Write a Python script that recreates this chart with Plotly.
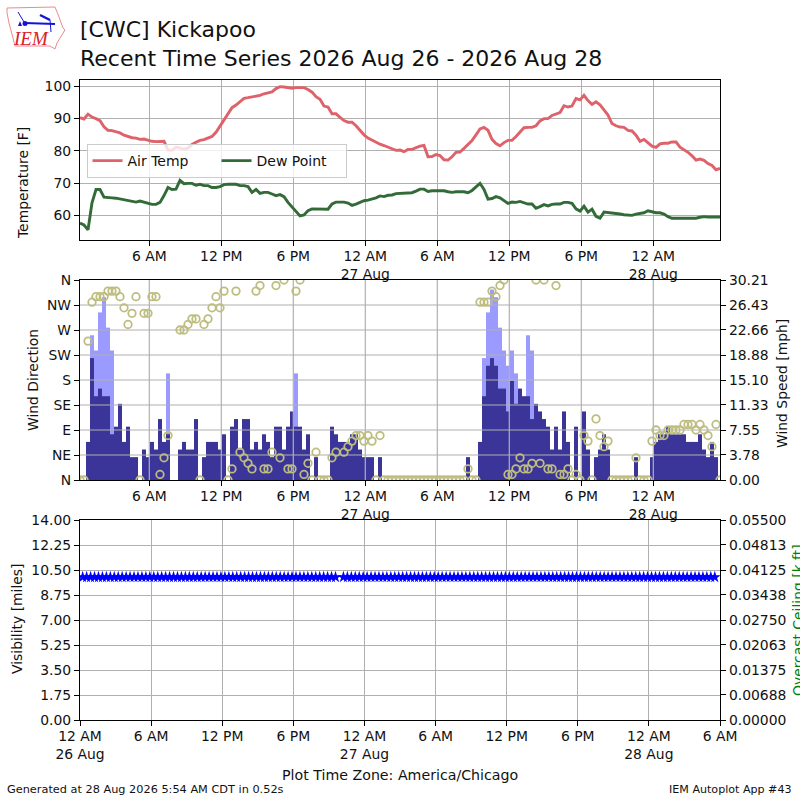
import pandas as pd
import plotly.graph_objects as go

TITLE_1 = "[CWC] Kickapoo"
TITLE_2 = "Recent Time Series 2026 Aug 26 - 2026 Aug 28"

TIMES = pd.date_range("2026-08-26 00:13:30", periods=161, freq="20min")

AIR_TEMP = [
    90.2, 89.8, 91.3, 90.4, 89.9, 89.3, 87.4, 86.3, 86.2, 85.8, 85.5, 84.8, 84.4, 84.0, 83.9, 83.5,
    83.6, 83.2, 82.9, 82.8, 82.8, 82.9, 80.2, 80.1, 81.1, 80.9, 80.5, 80.8, 81.9, 82.6, 83.2, 83.4,
    83.8, 84.4, 85.7, 87.6, 89.5, 91.4, 93.3, 94.1, 95.2, 96.2, 96.4, 96.6, 97.0, 97.1, 97.6, 97.8,
    98.2, 99.2, 99.8, 99.7, 99.5, 99.3, 99.5, 99.5, 99.5, 98.9, 98.1, 96.7, 95.9, 93.8, 93.5, 91.4,
    91.4, 90.3, 89.3, 88.8, 88.8, 87.7, 86.2, 84.9, 83.9, 83.2, 82.6, 82.0, 81.6, 81.2, 80.6, 80.1,
    80.2, 79.7, 80.4, 80.4, 80.9, 81.4, 81.6, 78.1, 78.2, 78.8, 78.5, 77.2, 77.1, 78.1, 79.5, 79.6,
    80.7, 81.9, 83.1, 84.9, 86.7, 87.2, 86.3, 83.5, 82.2, 81.5, 82.5, 83.2, 83.2, 84.4, 85.8, 87.1,
    87.2, 87.2, 87.7, 89.2, 89.9, 89.9, 90.9, 91.4, 91.8, 93.9, 93.5, 93.8, 96.1, 95.7, 97.1, 95.5,
    94.3, 95.1, 94.2, 92.6, 91.0, 88.4, 87.7, 87.3, 87.2, 86.3, 86.1, 84.8, 82.9, 83.5, 82.5, 81.4,
    81.0, 82.1, 82.3, 82.3, 82.7, 82.7, 81.1, 80.4, 79.5, 78.4, 77.1, 77.4, 77.0, 76.0, 75.4, 74.1,
    74.5,
]
DEW_POINT = [
    57.6, 57.0, 55.5, 63.9, 68.0, 68.0, 65.6, 65.4, 65.4, 65.3, 65.1, 64.9, 64.6, 64.4, 64.1, 64.4,
    64.1, 63.8, 63.4, 63.4, 64.0, 66.1, 68.6, 68.0, 68.1, 70.8, 69.8, 69.9, 69.9, 69.3, 69.6, 69.2,
    69.2, 68.6, 68.6, 68.9, 69.5, 69.6, 69.6, 69.6, 69.2, 69.2, 68.9, 67.1, 68.0, 66.8, 67.1, 67.1,
    66.6, 66.1, 66.4, 65.8, 64.0, 62.7, 61.4, 59.8, 60.1, 61.4, 62.0, 62.0, 61.8, 62.0, 61.9, 63.5,
    64.1, 64.1, 64.1, 63.8, 63.1, 63.5, 64.1, 64.5, 64.7, 65.0, 65.4, 66.0, 65.8, 66.2, 66.3, 66.7,
    66.8, 66.7, 67.0, 67.0, 67.5, 68.1, 68.1, 67.4, 67.6, 67.6, 67.6, 67.6, 67.3, 67.1, 67.3, 67.3,
    67.3, 67.0, 67.7, 68.8, 69.9, 68.0, 65.0, 65.2, 65.8, 65.4, 64.5, 63.7, 64.1, 64.0, 64.3, 63.9,
    63.5, 63.5, 62.2, 62.7, 63.3, 62.9, 63.4, 63.5, 63.5, 64.0, 64.0, 63.7, 62.0, 61.3, 62.8, 61.0,
    61.9, 59.7, 59.1, 61.0, 60.9, 60.8, 60.5, 60.4, 60.2, 60.0, 60.0, 60.4, 60.7, 60.8, 61.4, 61.1,
    60.8, 60.8, 60.4, 59.6, 59.1, 59.1, 59.1, 59.1, 59.1, 59.1, 59.1, 59.4, 59.6, 59.5, 59.5, 59.5,
    59.5,
]
WIND_KT = [
    0, 0, 5, 16, 11, 12, 11, 11, 6, 7, 10, 5, 7, 3, 3, 0, 4, 3, 5, 4, 8, 5, 6, 0, 0, 4, 5, 4, 4, 8,
    0, 3, 5, 5, 5, 4, 6, 0, 7, 8, 4, 8, 8, 4, 5, 4, 6, 5, 3, 7, 7, 4, 7, 9, 7, 7, 4, 6, 0, 3,
    0, 0, 0, 7, 6, 5, 5, 5, 6, 6, 4, 3, 3, 3, 0, 3, 0, 0, 0, 0, 0, 0, 0, 0, 0, 0, 0, 0, 0, 0,
    0, 0, 0, 0, 0, 0, 0, 3, 0, 0, 5, 11, 15, 16, 15, 12, 12, 9, 13, 10, 12, 11, 11, 8, 10, 9, 8, 7, 4, 7,
    4, 9, 5, 0, 7, 0, 9, 4, 0, 3, 4, 6, 4, 0, 0, 0, 0, 0, 0, 3, 0, 0, 0, 3, 5, 6, 6, 7, 6, 6,
    6, 6, 5, 5, 5, 6, 4, 3, 5, 3, 0,
]
GUST_KT = (
    [None] * 3 + [19, 17, 22, 24, 20, 17] + [None] * 13 + [14] + [None] * 31 + [14]
    + [None] * 46 + [16, 22, 25, 24, 20, 17, 15, 17, 14, None, None, 19, 17] + [None] * 47
)
WIND_DIR = [
    0, 0, 250, 320, 330, 330, 330, 340, 340, 340, 330, 310, 280, 300, 330, 0, 300, 300, 330, 330,
    10, 40, 80, None, None, 270, 270, 280, 290, 290, 0, 280, 290, 310, 330, 310, 340, 0, 20, 340,
    50, 40, 30, 20, 340, 350, 20, 20, 50, 350, 40, 360, 20, 20, 340, 360, 10, 30, 0, 50,
    0, 0, 0, 40, 50, None, 50, 60, 70, 80, 80, 70, 80, 70, 0, 80, 0, 0, 0, 0,
    0, 0, 0, 0, 0, 0, 0, 0, 0, 0, 0, 0, 0, 0, 0, 0, 0, 20, 0, 0,
    320, 320, 320, 340, 330, 350, 360, 10, 10, 20, 40, 20, 20, 30, 360, 30, 360, 20, 20, 350,
    10, 10, 20, 0, 10, 0, 80, 70, 0, 110, 80, 60, 70, 0, 0, 0, 0, 0, 0, 40,
    0, 0, 0, 70, 90, 80, 80, 90, 90, 90, 90, 100, 100, 100, 90, 100, 90, 80, 60, 100,
    0,
]
VISIBILITY = [10.0] * 65 + [None] + [10.0] * 95
CEILING = [None] * 161

X_TICKS_TOP = ["2026-08-26 06:00", "2026-08-26 12:00", "2026-08-26 18:00", "2026-08-27 00:00",
               "2026-08-27 06:00", "2026-08-27 12:00", "2026-08-27 18:00", "2026-08-28 00:00"]
X_LABELS_TOP = ["6 AM", "12 PM", "6 PM", "12 AM<br>27 Aug", "6 AM", "12 PM", "6 PM", "12 AM<br>28 Aug"]
X_TICKS_BOTTOM = ["2026-08-26 00:00"] + X_TICKS_TOP + ["2026-08-28 06:00"]
X_LABELS_BOTTOM = ["12 AM<br>26 Aug"] + X_LABELS_TOP + ["6 AM"]
TEMP_TICKS = [60, 70, 80, 90, 100]
DIR_TICKS = [0, 45, 90, 135, 180, 225, 270, 315, 360]
DIR_LABELS = ["N", "NE", "E", "SE", "S", "SW", "W", "NW", "N"]
SPEED_TICKS = [0, 3.78, 7.55, 11.33, 15.10, 18.88, 22.66, 26.43, 30.21]
SPEED_LABELS = ["0.00", "3.78", "7.55", "11.33", "15.10", "18.88", "22.66", "26.43", "30.21"]
VIS_TICKS = [0, 1.75, 3.5, 5.25, 7, 8.75, 10.5, 12.25, 14]
VIS_LABELS = ["0.00", "1.75", "3.50", "5.25", "7.00", "8.75", "10.50", "12.25", "14.00"]
CEIL_TICKS = [0, 0.00688, 0.01375, 0.02063, 0.0275, 0.03438, 0.04125, 0.04813, 0.055]
CEIL_LABELS = ["0.00000", "0.00688", "0.01375", "0.02063", "0.02750", "0.03438", "0.04125", "0.04813", "0.05500"]

MPH_PER_KT = 1.15078
wind_mph = [v * MPH_PER_KT for v in WIND_KT]
gust_mph = [None if v is None else v * MPH_PER_KT for v in GUST_KT]

FONT = "DejaVu Sans"
GRID = "#b0b0b0"
RANGE_TOP = ["2026-08-26 00:13:30", "2026-08-28 05:33:30"]
RANGE_BOTTOM = ["2026-08-26 00:00", "2026-08-28 06:00"]


def px(x, y):
    return x / 800, 1 - y / 800


def path(points, close=False):
    parts = []
    for i, (x, y) in enumerate(points):
        a, b = px(x, y)
        parts.append(("M" if i == 0 else "L") + f"{a:.5f},{b:.5f}")
    return " ".join(parts) + (" Z" if close else "")


def axis_style(**kw):
    base = dict(showline=True, linecolor="black", linewidth=1.2, ticks="outside", ticklen=5,
                tickwidth=1.1, tickcolor="black", tickfont=dict(family=FONT, size=13.9, color="#111"),
                tickmode="array", zeroline=False)
    base.update(kw)
    return base


fig = go.Figure()

# Temperature panel
fig.add_trace(go.Scatter(x=TIMES, y=AIR_TEMP, name="Air Temp", mode="lines", xaxis="x", yaxis="y",
                         line=dict(color="#df626b", width=2.9)))
fig.add_trace(go.Scatter(x=TIMES, y=DEW_POINT, name="Dew Point", mode="lines", xaxis="x", yaxis="y",
                         line=dict(color="#326a38", width=2.9)))

# Wind panel: bars on the speed axis, grid over the bars, direction circles on top
fig.add_trace(go.Bar(x=TIMES, y=gust_mph, name="Wind Gust", width=1200000, xaxis="x2", yaxis="y2",
                     marker=dict(color="#9b9bff", line=dict(width=0)), showlegend=False))
fig.add_trace(go.Bar(x=TIMES, y=wind_mph, name="Wind Speed", width=1200000, xaxis="x2", yaxis="y2",
                     marker=dict(color="#3b3599", line=dict(width=0)), showlegend=False))
grid_x, grid_y = [], []
for d in DIR_TICKS[1:-1]:
    grid_x += RANGE_TOP + [None]
    grid_y += [d, d, None]
for t in X_TICKS_TOP:
    grid_x += [t, t, None]
    grid_y += [0, 360, None]
fig.add_trace(go.Scatter(x=grid_x, y=grid_y, mode="lines", xaxis="x2", yaxis="y4", showlegend=False,
                         hoverinfo="skip", line=dict(color=GRID, width=1.2)))
fig.add_trace(go.Scatter(x=TIMES, y=WIND_DIR, name="Wind Direction", mode="markers", xaxis="x2", yaxis="y4",
                         showlegend=False,
                         marker=dict(symbol="circle-open", size=7.5, color="#bdbd80", line=dict(width=1.8, color="#bdbd80"))))

# Visibility panel
fig.add_trace(go.Scatter(x=TIMES, y=VISIBILITY, name="Visibility", mode="markers", xaxis="x3", yaxis="y5",
                         showlegend=False, marker=dict(symbol="star", size=9, color="#0000ff", line=dict(width=0))))
fig.add_trace(go.Scatter(x=TIMES, y=CEILING, name="Overcast Ceiling", mode="lines", xaxis="x3", yaxis="y6",
                         showlegend=False, line=dict(color="green")))

shapes = [
    dict(type="path", xref="paper", yref="paper", line=dict(color="#ee8a8a", width=1), fillcolor="rgba(0,0,0,0)",
         path=path([(7, 8), (55, 7), (59, 17), (63, 28), (65, 30), (60, 38), (57, 43), (55, 49), (50, 46),
                    (15, 46), (13, 38), (9, 23), (7, 13)], close=True)),
    dict(type="path", xref="paper", yref="paper", line=dict(color="#1414d8", width=2), path=path([(25, 23), (55, 24)])),
    dict(type="path", xref="paper", yref="paper", line=dict(color="#1414d8", width=2.5), path=path([(40, 15), (50, 20)])),
    dict(type="path", xref="paper", yref="paper", line=dict(color="#1414d8", width=1), path=path([(18, 12), (24, 22)])),
    dict(type="path", xref="paper", yref="paper", line=dict(color="#1414d8", width=1), path=path([(50, 20), (51, 32)])),
    dict(type="circle", xref="paper", yref="paper", line=dict(width=0), fillcolor="#1414d8",
         x0=22.5 / 800, x1=27.5 / 800, y0=1 - 26 / 800, y1=1 - 21 / 800),
    dict(type="path", xref="paper", yref="paper", line=dict(width=0), fillcolor="#1414d8",
         path=path([(18, 26), (22, 26), (20, 21)], close=True)),
]


def label(text, x, y, size=13.9, angle=0, anchor="center", color="#111", **kw):
    a, b = px(x, y)
    return dict(text=text, x=a, y=b, xref="paper", yref="paper", showarrow=False, textangle=angle, xanchor=anchor,
                yanchor="middle", font=dict(family=FONT, size=size, color=color), **kw)


annotations = [
    label("Temperature [F]", 23, 183, angle=-90),
    label("Wind Direction", 33, 380, angle=-90),
    label("Wind Speed [mph]", 782, 384, angle=-90),
    label("Visibility [miles]", 17, 619, angle=-90),
    label("Overcast Ceiling [k ft]", 798, 620, angle=-90, color="green"),
    label("Plot Time Zone: America/Chicago", 400, 775, size=14.2),
    label("Generated at 28 Aug 2026 5:54 AM CDT in 0.52s", 5, 789, size=11.3, anchor="left"),
    label("IEM Autoplot App #43", 794, 789, size=11.1, anchor="right"),
    dict(text="<i>IEM</i>", x=31 / 800, y=1 - 38.5 / 800, xref="paper", yref="paper", showarrow=False,
         xanchor="center", yanchor="middle", font=dict(family="Liberation Serif", size=19, color="#d8202a")),
]

fig.update_layout(
    width=800, height=800, autosize=False, margin=dict(l=0, r=0, t=0, b=0, autoexpand=False),
    paper_bgcolor="white", plot_bgcolor="white", barmode="overlay", font=dict(family=FONT, color="#111"),
    title=dict(text=TITLE_1 + "<br>" + TITLE_2, x=0.1, xanchor="left", xref="paper", y=1 - 37 / 800, yanchor="top",
               font=dict(family=FONT, size=22, color="#111")),
    legend=dict(orientation="h", x=86.5 / 800, y=1 - 144 / 800, xanchor="left", yanchor="top",
                bgcolor="rgba(255,255,255,0.8)", bordercolor="#cccccc", borderwidth=1,
                font=dict(family=FONT, size=14, color="#111"), entrywidth=84, entrywidthmode="pixels"),
    shapes=shapes, annotations=annotations,
    xaxis=axis_style(domain=[0.1, 0.9], anchor="y", range=RANGE_TOP, type="date", tickvals=X_TICKS_TOP,
                     ticktext=X_LABELS_TOP, mirror=True, showgrid=True, gridcolor=GRID, gridwidth=1.2,
                     ticklabelstandoff=-2),
    yaxis=axis_style(domain=[0.7, 0.9], anchor="x", range=[52.37, 101.86], tickvals=TEMP_TICKS, mirror=True,
                     showgrid=True, gridcolor=GRID, gridwidth=1.2),
    xaxis2=axis_style(domain=[0.1, 0.9], anchor="y2", range=RANGE_TOP, type="date", tickvals=X_TICKS_TOP,
                      ticktext=X_LABELS_TOP, mirror=True, showgrid=False, ticklabelstandoff=-2),
    yaxis2=axis_style(domain=[0.4, 0.65], anchor="x2", side="right", range=[0, 30.21], tickvals=SPEED_TICKS,
                      ticktext=SPEED_LABELS, showgrid=False),
    yaxis4=axis_style(overlaying="y2", anchor="x2", side="left", range=[0, 360], tickvals=DIR_TICKS,
                      ticktext=DIR_LABELS, showgrid=False),
    xaxis3=axis_style(domain=[0.1, 0.9], anchor="y5", range=RANGE_BOTTOM, type="date", tickvals=X_TICKS_BOTTOM,
                      ticktext=X_LABELS_BOTTOM, mirror=True, showgrid=True, gridcolor=GRID, gridwidth=1.2,
                      ticklabelstandoff=-2),
    yaxis5=axis_style(domain=[0.1, 0.35], anchor="x3", side="left", range=[0, 14], tickvals=VIS_TICKS,
                      ticktext=VIS_LABELS, showgrid=True, gridcolor=GRID, gridwidth=1.2),
    yaxis6=axis_style(overlaying="y5", anchor="x3", side="right", range=[0, 0.055], tickvals=CEIL_TICKS,
                      ticktext=CEIL_LABELS, showgrid=False),
)

fig.write_html("out.html", config={"displayModeBar": False}, post_script="document.body.style.margin='0';")
